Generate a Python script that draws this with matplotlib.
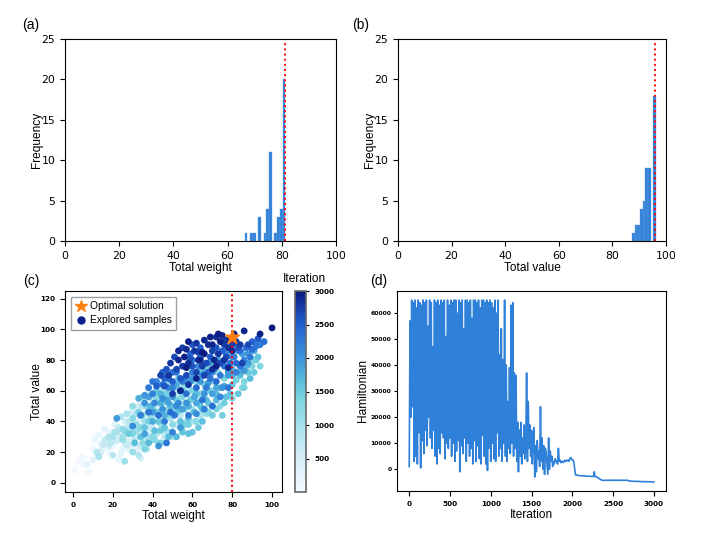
import numpy as np
import matplotlib
matplotlib.use("Agg")
import matplotlib.pyplot as plt
from matplotlib.colors import LinearSegmentedColormap
from matplotlib.lines import Line2D

# ---- data ----
# (a) histogram of total weight (bin start, count)
weight_bins = [66, 68, 69, 71, 73, 74, 75, 77, 78, 79, 80]
weight_counts = [1, 1, 1, 3, 1, 4, 11, 1, 3, 4, 20]
weight_opt = 81

# (b) histogram of total value
value_bins = [87, 88, 89, 90, 91, 92, 93, 95]
value_counts = [1, 2, 2, 4, 5, 9, 9, 18]
value_opt = 96

# (c) explored samples: weight, value, iteration
samples = [
    # early
    (1, 8, 20), (8, 7, 60), (5, 12, 40), (5, 17, 90), (10, 22, 150), (3, 14, 30), (12, 19, 200),
    (14, 25, 250), (16, 35, 300), (18, 20, 120), (20, 24, 180), (22, 27, 350), (24, 31, 400),
    (17, 29, 220), (19, 33, 280), (25, 22, 330), (23, 15, 260), (27, 36, 450), (28, 28, 380),
    (30, 25, 500), (31, 40, 420), (29, 45, 550), (33, 30, 480), (34, 16, 520), (32, 22, 310),
    (26, 40, 440), (21, 38, 360), (35, 36, 580), (36, 55, 520), (37, 45, 460), (38, 28, 590),
    (40, 38, 560), (11, 28, 170), (15, 22, 230), (13, 31, 240), (24, 19, 270), (36, 24, 470),
    (42, 50, 540), (30, 48, 410), (38, 60, 590), (28, 22, 340), (26, 26, 390), (34, 42, 600),
    (33, 50, 570), (39, 33, 530), (18, 24, 600), (14, 20, 500), (10, 15, 300), (7, 12, 250),
    (16, 28, 700),
    # 600-1100
    (12, 20, 850), (13, 17, 950), (15, 25, 700), (18, 30, 900), (20, 18, 800), (21, 33, 1000),
    (22, 28, 650), (23, 36, 750), (25, 30, 1050), (26, 14, 1100), (27, 25, 680), (28, 40, 820),
    (29, 33, 920), (30, 20, 1080), (31, 28, 720), (32, 45, 880), (33, 35, 980), (34, 24, 640),
    (35, 30, 760), (36, 40, 1020), (37, 22, 860), (38, 48, 940), (39, 36, 700), (40, 28, 1060),
    (41, 44, 780), (42, 32, 960), (43, 52, 840), (44, 38, 1000), (45, 26, 620), (46, 46, 900),
    (47, 34, 1040), (48, 56, 740), (49, 42, 980), (50, 30, 860), (51, 50, 1090), (52, 38, 680),
    (53, 58, 920), (54, 44, 800), (55, 36, 1010), (56, 52, 880), (57, 40, 760), (58, 62, 950),
    (60, 48, 1030), (62, 55, 820), (64, 44, 990), (66, 60, 870), (24, 43, 910), (19, 26, 780),
    (30, 36, 1070), (35, 50, 930), (40, 54, 850), (45, 60, 970), (37, 30, 1090), (43, 26, 690),
    (50, 45, 1040), (27, 45, 960), (33, 18, 870), (46, 30, 770), (55, 62, 1080), (61, 40, 940),
    (20, 30, 1000), (25, 28, 1100), (22, 33, 900), (28, 36, 800),
    # 1100-1700
    (25, 35, 1200), (28, 32, 1500), (30, 42, 1300), (31, 26, 1650), (32, 38, 1150), (33, 46, 1450),
    (34, 30, 1600), (35, 44, 1250), (36, 36, 1550), (37, 50, 1350), (38, 26, 1680), (39, 42, 1180),
    (40, 48, 1480), (41, 34, 1620), (42, 56, 1280), (43, 40, 1520), (44, 46, 1380), (45, 52, 1220),
    (46, 36, 1580), (47, 58, 1420), (48, 44, 1320), (49, 50, 1660), (50, 38, 1240), (51, 62, 1460),
    (52, 46, 1560), (53, 52, 1160), (54, 40, 1640), (55, 56, 1340), (56, 48, 1440), (57, 64, 1260),
    (58, 42, 1600), (59, 54, 1500), (60, 60, 1380), (61, 46, 1700), (62, 66, 1200), (63, 52, 1540),
    (64, 58, 1300), (65, 48, 1620), (66, 64, 1420), (67, 54, 1680), (68, 70, 1250), (69, 60, 1480),
    (70, 50, 1570), (71, 66, 1330), (72, 58, 1650), (73, 72, 1190), (74, 62, 1520), (75, 44, 1440),
    (76, 68, 1370), (77, 56, 1610), (78, 74, 1280), (80, 64, 1560), (82, 67, 1400), (84, 70, 1630),
    (85, 62, 1300), (88, 72, 1500), (90, 76, 1350), (92, 80, 1450), (93, 90, 1200), (60, 33, 1550),
    (55, 33, 1580), (48, 30, 1660), (44, 26, 1400), (36, 22, 1360), (40, 30, 1290), (52, 30, 1690),
    (56, 38, 1410), (65, 40, 1640), (70, 44, 1470), (74, 50, 1230), (79, 58, 1590), (86, 66, 1330),
    (63, 36, 1510), (68, 46, 1370), (58, 32, 1630), (30, 50, 1170), (35, 56, 1270), (42, 60, 1530),
    (47, 66, 1340), (53, 68, 1610), (32, 34, 1150), (26, 34, 1250), (35, 26, 1200), (41, 28, 1300),
    (62, 40, 1250), (67, 45, 1150), (72, 48, 1350), (76, 52, 1450), (80, 55, 1300), (83, 58, 1550),
    (86, 62, 1400), (89, 68, 1650), (91, 72, 1500), (94, 76, 1350), (93, 82, 1600), (90, 80, 1250),
    (87, 76, 1700), (72, 54, 1700), (68, 52, 1550), (64, 50, 1600), (58, 38, 1450),
    (45, 40, 1300), (48, 48, 1250), (52, 54, 1450), (55, 60, 1550), (58, 66, 1350), (61, 70, 1600),
    (64, 72, 1500), (67, 74, 1400), (70, 78, 1650), (50, 50, 1600), (44, 34, 1500), (38, 40, 1400),
    (34, 36, 1250), (30, 32, 1350), (42, 46, 1500), (54, 48, 1700), (62, 58, 1650), (39, 50, 1700),
    # 1700-2400
    (22, 42, 1950), (30, 37, 2050), (34, 44, 2200), (36, 32, 1900), (38, 46, 2300), (40, 40, 1800),
    (41, 52, 2100), (43, 44, 2350), (44, 58, 1750), (45, 48, 2000), (46, 40, 2250), (47, 54, 1850),
    (48, 62, 2150), (49, 46, 2400), (50, 56, 1950), (51, 44, 2300), (52, 64, 1800), (53, 52, 2050),
    (54, 60, 2250), (55, 48, 1900), (56, 68, 2150), (57, 58, 2350), (58, 50, 1750), (59, 66, 2000),
    (60, 72, 2200), (61, 56, 1850), (62, 62, 2400), (63, 76, 2100), (64, 66, 1950), (65, 54, 2300),
    (66, 72, 1800), (67, 62, 2250), (68, 78, 2050), (69, 68, 2350), (70, 58, 1900), (71, 74, 2150),
    (72, 66, 2400), (73, 80, 1850), (74, 70, 2250), (75, 62, 2000), (76, 76, 2300), (77, 84, 2100),
    (78, 70, 1950), (79, 78, 2350), (80, 74, 1800), (81, 82, 2200), (82, 78, 2400), (83, 86, 2050),
    (84, 76, 2300), (85, 84, 1900), (86, 80, 2150), (87, 88, 2350), (88, 84, 2000), (89, 82, 2250),
    (90, 87, 2400), (91, 86, 1850), (92, 89, 2300), (93, 92, 2100), (94, 90, 2200), (96, 92, 2350),
    (86, 73, 1950), (82, 72, 2150), (88, 78, 1900), (78, 62, 2300), (74, 56, 2100), (70, 50, 2350),
    (66, 48, 2200), (62, 45, 2050), (58, 44, 2250), (54, 36, 1950), (50, 33, 2150), (47, 26, 2300),
    (43, 24, 2000), (48, 68, 2400), (52, 72, 2250), (56, 76, 2100), (45, 64, 2350), (60, 80, 2300),
    (64, 82, 2200), (40, 58, 2150), (38, 62, 2250), (36, 57, 1980), (42, 66, 2100), (38, 56, 1900),
    (36, 52, 2000), (33, 55, 1800), (84, 72, 1750), (80, 70, 1800), (76, 63, 1850),
    (45, 55, 2050), (50, 62, 2150), (55, 66, 2250), (60, 68, 1950), (65, 70, 2050), (70, 72, 2150),
    (75, 78, 2250), (80, 82, 2050), (84, 86, 2350), (68, 65, 1950), (62, 52, 1850), (57, 52, 2000),
    (52, 50, 2100), (48, 52, 1900), (44, 52, 1800), (40, 46, 1950), (46, 44, 1750), (66, 58, 2000),
    (72, 62, 1850), (78, 72, 1900), (40, 66, 2300),
    # 2400-3000
    (46, 63, 2600), (48, 70, 2800), (50, 66, 2500), (52, 74, 2700), (53, 80, 2900), (54, 68, 2550),
    (55, 76, 2750), (56, 82, 2950), (57, 70, 2650), (58, 78, 2850), (59, 84, 2450), (60, 76, 2600),
    (61, 86, 2800), (62, 72, 2700), (63, 80, 2900), (64, 88, 2500), (65, 76, 2750), (66, 84, 2950),
    (67, 78, 2650), (68, 90, 2850), (69, 82, 2550), (70, 86, 2700), (71, 80, 2900), (72, 88, 2600),
    (73, 84, 2800), (74, 92, 2950), (75, 86, 2500), (76, 90, 2750), (77, 82, 2650), (78, 88, 2850),
    (79, 94, 2950), (80, 90, 2700), (80, 86, 2900), (81, 97, 2950), (82, 92, 2800), (83, 88, 2600),
    (84, 90, 2750), (86, 99, 2900), (88, 90, 2650), (94, 97, 2950), (100, 101, 2990), (93, 94, 2550),
    (90, 92, 2450), (58, 64, 2800), (62, 68, 2950), (66, 70, 2700), (70, 74, 2850), (74, 78, 2650),
    (54, 60, 2900), (50, 58, 2750), (60, 90, 2550), (64, 80, 2950), (68, 72, 2500), (72, 76, 2950),
    (76, 80, 2800), (65, 85, 3000), (70, 90, 2900), (57, 75, 2980), (85, 78, 2700), (78, 75, 2900),
    (42, 63, 2500), (44, 70, 2700), (46, 68, 2450), (47, 74, 2600), (49, 78, 2800), (50, 72, 2400),
    (51, 82, 2650), (53, 86, 2900), (55, 88, 2750), (57, 87, 2850), (58, 92, 2950), (62, 91, 2800),
    (66, 93, 2900), (69, 95, 2950), (72, 95, 2850), (75, 96, 2900), (77, 93, 2800), (73, 97, 2980),
    (59, 81, 2600), (63, 85, 2700), (45, 72, 2450),
]
opt_weight, opt_value = 80, 95
capacity = 80

# (d) Hamiltonian every 10 iterations, in thousands
ham_k = [
    1, 57, 20, 65, 24, 64, 3, 65, 5, 62,
    2, 65, 14, 64, 0.5, 63, 11, 65, 6, 64,
    15, 65, 9, 55, 20, 65, 12, 64, 8, 47,
    15, 65, 5, 64, 2, 65, 8, 63, 6, 65,
    14, 64, 12, 65, 4, 51, 10, 65, 8, 63,
    12, 65, 5, 64, 10, 65, 3, 65, 7, 60,
    11, 65, -1, 64, 9, 65, 6, 54, 12, 65,
    3, 65, 10, 64, 5, 65, 8, 58, 2, 65,
    11, 65, 3, 64, 9, 65, 4, 62, 2, 65,
    13, 65, 5, 64, 2, 65, -0.5, 64, 8, 65,
    3, 64, 10, 62, 4, 65, 3, 60, 14, 65,
    5, 44, 8, 54, 3, 42, 10, 65, 5, 40,
    3, 26, 8, 39, 6, 63, 10, 64, 5, 37,
    8, 36, 3, 18, -1, 15, 5, 18, 2, 12,
    6, 17, 4, 10, 37, 3, 26, 8, 17, 5,
    15, 2, 12, 16, -3, 9, -1, 11, 4, 7,
    1, 24, 3, 12, 0, 9, -2, 8, 6, 2,
    -2, 12, 0, 7, 3, 5, 1, 3, 2, 4,
    3, 3, 2, 8, 3, 3.5, 2.5, 3, 3, 2.5,
    3, 3.5, 3, 3, 3.5, 3.5, 3, 4, 4.5, 4,
    3.5, 3.5, 2.5, 0, -2.2, -2.3, -2.3, -2.4, -2.4, -2.5,
    -2.5, -2.5, -2.6, -2.6, -2.6, -2.6, -2.6, -2.7, -2.7, -2.7,
    -2.7, -2.7, -2.7, -2.8, -2.8, -2.8, -2.8, -1.0, -2.9, -2.9,
    -3.0, -3.2, -3.4, -3.6, -3.8, -4.0, -4.2, -4.3, -4.3, -4.3,
    -4.3, -4.3, -4.2, -4.3, -4.3, -4.2, -4.3, -4.3, -4.2, -4.3,
    -4.3, -4.2, -4.3, -4.3, -4.2, -4.3, -4.3, -4.3, -4.2, -4.3,
    -4.3, -4.3, -4.2, -4.3, -4.3, -4.3, -4.2, -4.3, -4.3, -4.4,
    -4.5, -4.6, -4.6, -4.6, -4.7, -4.6, -4.7, -4.7, -4.7, -4.7,
    -4.7, -4.7, -4.8, -4.7, -4.8, -4.8, -4.8, -4.8, -4.8, -4.8,
    -4.8, -4.8, -4.8, -4.9, -4.8, -4.8, -4.9, -4.9, -4.9, -4.9,
    -4.9,
]
ham_iters = np.arange(0, 3001, 10)

BAR = '#2f80d8'
LAB = 'Liberation Sans'

fig = plt.figure(figsize=(7.08, 5.42), dpi=100)
W, H = 708.0, 542.0


def place(l, t, r, b):
    return [l / W, 1 - b / H, (r - l) / W, (b - t) / H]


def style_hist(ax, xlabel):
    ax.set_xlim(0, 100)
    ax.set_ylim(0, 25)
    ax.set_xticks(range(0, 101, 20))
    ax.set_yticks(range(0, 26, 5))
    ax.tick_params(labelsize=7.8)
    ax.set_xlabel(xlabel, family=LAB, fontsize=8.6, labelpad=1)
    ax.set_ylabel('Frequency', family=LAB, fontsize=8.6, labelpad=-1)


# (a)
ax_a = fig.add_axes(place(65, 39, 336, 241))
ax_a.bar(np.array(weight_bins) + 0.3, weight_counts, width=1, align='edge',
         color=BAR, edgecolor='#6aa3e3', linewidth=0.3)
ax_a.axvline(weight_opt, color='red', linestyle=':', linewidth=1.4)
style_hist(ax_a, 'Total weight')

# (b)
ax_b = fig.add_axes(place(398, 39, 666, 241))
ax_b.bar(np.array(value_bins) + 0.3, value_counts, width=1, align='edge',
         color=BAR, edgecolor='#6aa3e3', linewidth=0.3)
ax_b.axvline(value_opt, color='red', linestyle=':', linewidth=1.4)
style_hist(ax_b, 'Total value')

# (c)
cmap = LinearSegmentedColormap.from_list('iter', [
    (0.0, '#f4faff'), (0.17, '#d6eef8'), (0.33, '#a6e2ec'), (0.45, '#7fd6df'),
    (0.55, '#5bbfdc'), (0.67, '#3a93da'), (0.83, '#2262d2'), (1.0, '#0a1a80')])

w = np.array([s[0] for s in samples])
v = np.array([s[1] for s in samples])
it = np.array([s[2] for s in samples])
order = np.argsort(it, kind='stable')

ax_c = fig.add_axes(place(65, 291, 282, 492))
sc = ax_c.scatter(w[order], v[order], c=it[order], cmap=cmap, vmin=0, vmax=3000,
                  s=24, linewidths=0)
ax_c.scatter([opt_weight], [opt_value], marker='*', s=110, color='#ff7f0e', zorder=5)
ax_c.axvline(capacity, color='red', linestyle=':', linewidth=1.4)
ax_c.set_xlim(-4, 105)
ax_c.set_ylim(-6, 125)
ax_c.set_xticks(range(0, 101, 20))
ax_c.set_yticks(range(0, 121, 20))
for lab in ax_c.get_xticklabels() + ax_c.get_yticklabels():
    lab.set_fontweight('bold')
ax_c.tick_params(labelsize=5.2)
ax_c.set_xlabel('Total weight', family=LAB, fontsize=8.6, labelpad=2)
ax_c.set_ylabel('Total value', family=LAB, fontsize=8.6, labelpad=-2)
handles = [
    Line2D([], [], marker='*', color='#ff7f0e', linestyle='none', markersize=9),
    Line2D([], [], marker='o', color='#0a1f8f', linestyle='none', markersize=5),
]
ax_c.legend(handles, ['Optimal solution', 'Explored samples'], loc='upper left',
            prop={'family': LAB, 'size': 7.4}, fancybox=False, edgecolor='#888888',
            handletextpad=0.2, borderpad=0.4, labelspacing=0.4, handlelength=1.2,
            borderaxespad=0.6)

cax = fig.add_axes(place(295, 291, 306, 492))
cb = fig.colorbar(sc, cax=cax, ticks=range(500, 3001, 500))
cb.outline.set_edgecolor('#666666')
cb.outline.set_linewidth(1.2)
cax.tick_params(labelsize=5.2, length=2.5)
for lab in cax.get_yticklabels():
    lab.set_fontweight('bold')
fig.text(304 / W, 1 - 279 / H, 'Iteration', family=LAB, fontsize=8.6,
         ha='center', va='center')

# (d)
ax_d = fig.add_axes(place(397, 291, 666, 491))
ax_d.plot(ham_iters, np.array(ham_k) * 1000, color=BAR, linewidth=1.2)
ax_d.set_xticks(range(0, 3001, 500))
ax_d.set_yticks(range(0, 60001, 10000))
ax_d.tick_params(axis='x', labelsize=5.2)
ax_d.tick_params(axis='y', labelsize=4.4, length=2.5, pad=1.5)
for lab in ax_d.get_xticklabels() + ax_d.get_yticklabels():
    lab.set_fontweight('bold')
ax_d.set_xlabel('Iteration', family=LAB, fontsize=8.6, labelpad=2)
ax_d.set_ylabel('Hamiltonian', family=LAB, fontsize=8.6, labelpad=1)

for lbl, x, y in [('(a)', 31, 25), ('(b)', 361, 25), ('(c)', 31, 281), ('(d)', 379, 281)]:
    fig.text(x / W, 1 - y / H, lbl, family=LAB, fontsize=10, ha='center', va='center')

fig.savefig('out.png', dpi=100)
